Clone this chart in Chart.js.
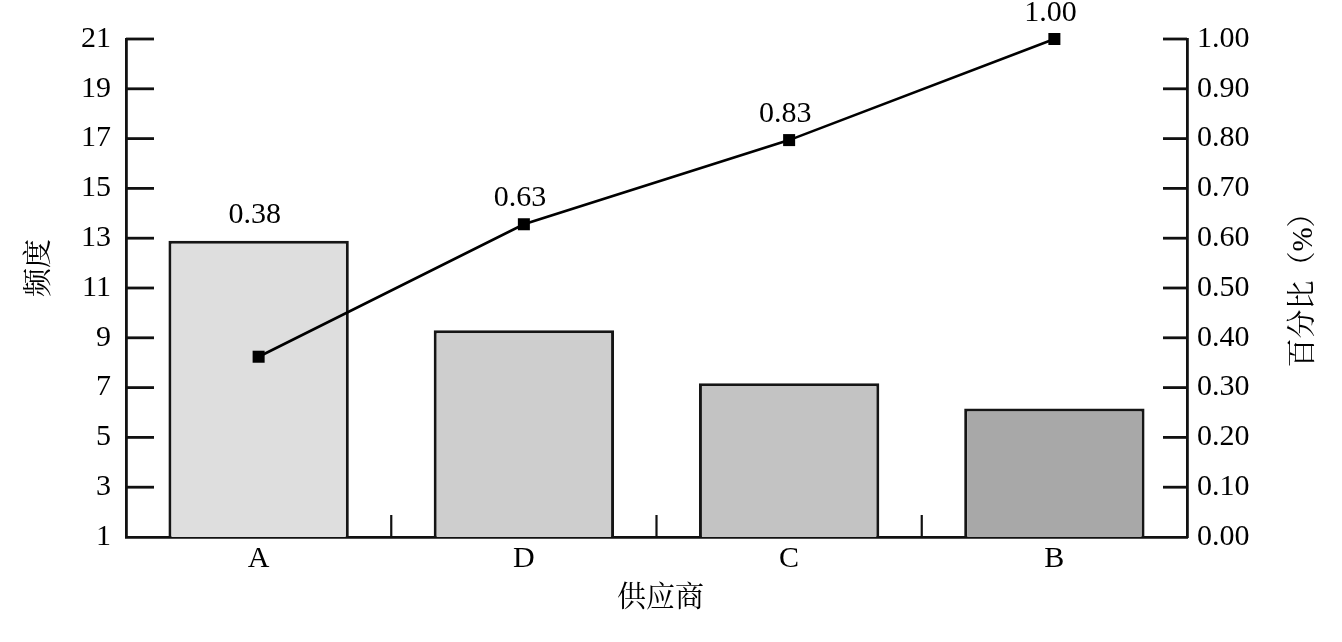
<!DOCTYPE html>
<html>
<head>
<meta charset="utf-8">
<script src="https://cdn.jsdelivr.net/npm/chart.js"></script>
<style>
  html, body { margin: 0; padding: 0; background: #fff; }
  #wrap { width: 1342px; height: 642px; }
</style>
</head>
<body>
<div id="wrap"><canvas id="c" width="1342" height="642"></canvas></div>
<script>
// ---- data ----
const categories = ['A', 'D', 'C', 'B'];
const frequency = [12.9, 9.3, 7.17, 6.16];
const cumulative = [0.362, 0.628, 0.797, 1.0];
const cumulativeLabels = ['0.38', '0.63', '0.83', '1.00'];
const barColors = ['#dedede', '#cecece', '#c3c3c3', '#a8a8a8'];
const xTitle = '供应商';
const leftTitle = '频度';
const rightTitle = '百分比（%）';

const FONT = "'Liberation Serif', 'Times New Roman', serif";
const CJK = "'Liberation Serif', 'Noto Serif CJK SC', 'Noto Sans CJK SC', serif";
const INK = '#111';
const FS = 30;

const decorPlugin = {
  id: 'decor',
  afterDraw(chart) {
    const ctx = chart.ctx;
    const area = chart.chartArea;
    const ys = chart.scales.y, yr = chart.scales.y1, xs = chart.scales.x;
    ctx.save();
    ctx.strokeStyle = INK;
    ctx.lineWidth = 2.8;
    // inward ticks left
    ys.ticks.forEach(t => {
      if (t.value === ys.min) return;
      const y = ys.getPixelForValue(t.value);
      ctx.beginPath(); ctx.moveTo(area.left, y); ctx.lineTo(area.left + 28, y); ctx.stroke();
    });
    // inward ticks right
    yr.ticks.forEach(t => {
      if (Math.abs(t.value - yr.min) < 1e-9) return;
      const y = yr.getPixelForValue(t.value);
      ctx.beginPath(); ctx.moveTo(area.right - 24, y); ctx.lineTo(area.right, y); ctx.stroke();
    });
    // category separators
    ctx.lineWidth = 2.2;
    for (let i = 1; i < categories.length; i++) {
      const x = (xs.getPixelForValue(i - 1) + xs.getPixelForValue(i)) / 2;
      ctx.beginPath(); ctx.moveTo(x, area.bottom); ctx.lineTo(x, area.bottom - 22); ctx.stroke();
    }
    // value labels
    const lineMeta = chart.getDatasetMeta(1);
    const barMeta = chart.getDatasetMeta(0);
    ctx.fillStyle = '#000';
    ctx.font = FS + 'px ' + FONT;
    ctx.textAlign = 'center';
    ctx.textBaseline = 'middle';
    lineMeta.data.forEach((pt, i) => {
      const top = Math.min(pt.y, barMeta.data[i].y);
      ctx.fillText(cumulativeLabels[i], pt.x - 4, top - 26);
    });
    // axis titles
    ctx.font = '29px ' + CJK;
    const cy = (area.top + area.bottom) / 2;
    ctx.save();
    ctx.translate(40, cy - 20);
    ctx.rotate(-Math.PI / 2);
    ctx.fillText(leftTitle, 0, 0);
    ctx.restore();
    ctx.save();
    ctx.translate(1304, cy - 5);
    ctx.rotate(-Math.PI / 2);
    ctx.fillText(rightTitle, 0, 0);
    ctx.restore();
    ctx.fillText(xTitle, (area.left + area.right) / 2 + 4, area.bottom + 62);
    ctx.restore();
  }
};

new Chart(document.getElementById('c'), {
  data: {
    labels: categories,
    datasets: [
      {
        type: 'bar',
        data: frequency,
        yAxisID: 'y',
        backgroundColor: barColors,
        borderColor: '#151515',
        borderWidth: 3,
        borderSkipped: false,
        categoryPercentage: 1,
        barPercentage: 0.68,
        order: 2
      },
      {
        type: 'line',
        data: cumulative,
        yAxisID: 'y1',
        borderColor: '#000',
        borderWidth: 2.6,
        pointStyle: 'rect',
        pointRadius: 8.5,
        pointBorderWidth: 0,
        pointBackgroundColor: '#000',
        tension: 0,
        clip: false,
        order: 1
      }
    ]
  },
  options: {
    responsive: false,
    animation: false,
    devicePixelRatio: 1,
    layout: { padding: { top: 39, left: 0, right: 0, bottom: 0 } },
    plugins: { legend: { display: false }, tooltip: { enabled: false } },
    scales: {
      x: {
        type: 'category',
        offset: true,
        grid: { display: false, drawTicks: false },
        border: { display: true, color: INK, width: 2.8 },
        ticks: { color: '#000', font: { family: FONT, size: FS }, padding: 4 },
        afterFit(s) { s.height = 105; }
      },
      y: {
        position: 'left',
        min: 1, max: 21,
        grid: { drawOnChartArea: false, drawTicks: false },
        border: { display: true, color: INK, width: 2.8 },
        ticks: { stepSize: 2, color: '#000', font: { family: FONT, size: FS }, padding: 15 },
        afterFit(s) { s.width = 126; }
      },
      y1: {
        position: 'right',
        min: 0, max: 1,
        grid: { drawOnChartArea: false, drawTicks: false },
        border: { display: true, color: INK, width: 2.8 },
        ticks: { stepSize: 0.1, color: '#000', font: { family: FONT, size: FS }, padding: 10,
                 callback: v => Number(v).toFixed(2) },
        afterFit(s) { s.width = 155; }
      }
    }
  },
  plugins: [decorPlugin]
});
</script>
</body>
</html>
